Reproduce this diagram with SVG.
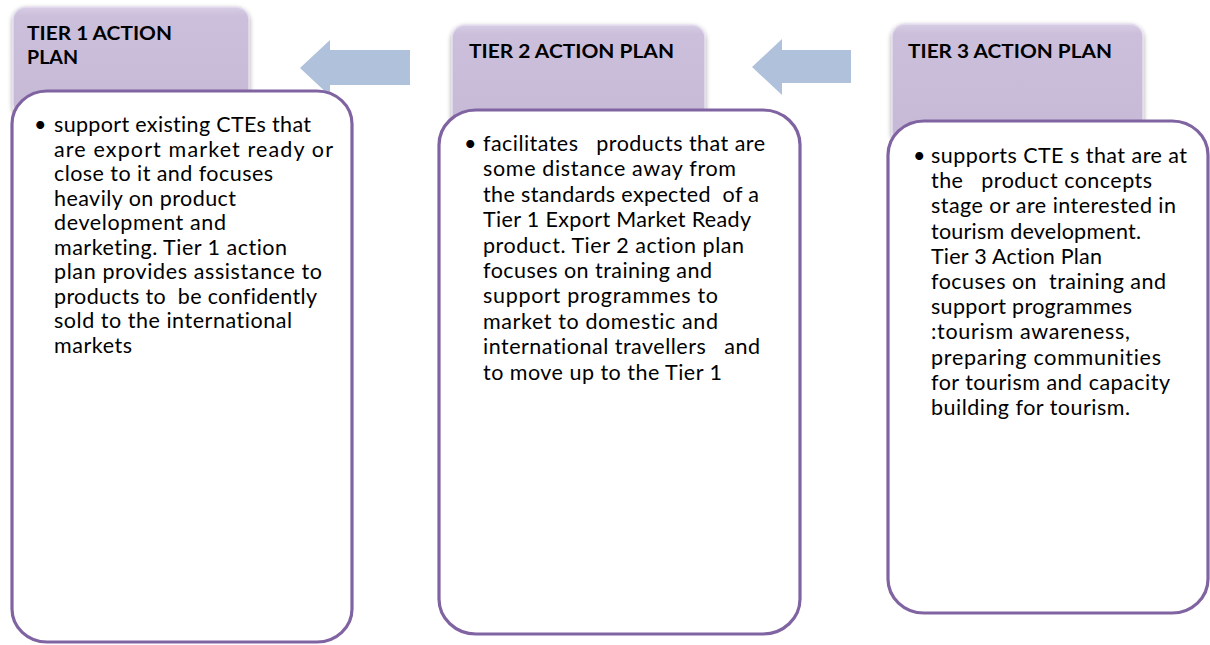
<svg xmlns="http://www.w3.org/2000/svg" width="1210" height="645" viewBox="0 0 1210 645">
  <defs>
    <linearGradient id="hdrGrad" x1="0" y1="0" x2="0" y2="1">
      <stop offset="0" stop-color="#d8cee5"/>
      <stop offset="0.08" stop-color="#cbbfdb"/>
      <stop offset="1" stop-color="#c6b9d6"/>
    </linearGradient>
    <filter id="shadow" x="-10%" y="-10%" width="120%" height="130%">
      <feGaussianBlur in="SourceAlpha" stdDeviation="2.5"/>
      <feOffset dx="0" dy="1.5" result="b"/>
      <feComponentTransfer><feFuncA type="linear" slope="0.35"/></feComponentTransfer>
      <feMerge><feMergeNode/><feMergeNode in="SourceGraphic"/></feMerge>
    </filter>
    <style>
      .hdr { fill: url(#hdrGrad); stroke: #e6def0; stroke-width: 1.5; filter: url(#shadow); }
      .card { fill: #ffffff; stroke: #8064a2; stroke-width: 3.2; }
      .arrow { fill: #afc1db; }
      .title { font-family: Lato, "Liberation Sans", sans-serif; font-weight: bold; font-size: 19px; fill: #000000; }
      .body { font-family: Lato, "Liberation Sans", sans-serif; font-size: 21.5px; fill: #000000; font-variant-ligatures: none; }
    </style>
  </defs>

  <rect width="1210" height="645" fill="#ffffff"/>

  <g id="connectors">
    <polygon class="arrow" points="300,68 330,40 330,50 410,50 410,85 330,85 330,96"/>
    <polygon class="arrow" points="752,67 782,39 782,50 851,50 851,83 782,83 782,95"/>
  </g>

  <g id="tier1">
    <rect class="hdr" x="13" y="7" width="236" height="110" rx="13"/>
    <text class="title" x="27" y="40" textLength="145" lengthAdjust="spacingAndGlyphs">TIER 1 ACTION</text>
    <text class="title" x="27" y="64" textLength="51" lengthAdjust="spacingAndGlyphs">PLAN</text>
    <rect class="card" x="12" y="91" width="340" height="551" rx="35" ry="33"/>
    <g class="body">
      <text x="34" y="132">•</text>
      <text x="54" y="132" textLength="257" lengthAdjust="spacing">support existing CTEs that</text>
      <text x="54" y="156.5" textLength="279" lengthAdjust="spacing">are export market ready or</text>
      <text x="54" y="181" textLength="219" lengthAdjust="spacing">close to it and focuses</text>
      <text x="54" y="205.5" textLength="182" lengthAdjust="spacing">heavily on product</text>
      <text x="54" y="230" textLength="172" lengthAdjust="spacing">development and</text>
      <text x="54" y="254.5" textLength="233" lengthAdjust="spacing">marketing. Tier 1 action</text>
      <text x="54" y="279" textLength="268" lengthAdjust="spacing">plan provides assistance to</text>
      <text x="54" y="303.5" textLength="263" lengthAdjust="spacing">products to&#160; be confidently</text>
      <text x="54" y="328" textLength="238" lengthAdjust="spacing">sold to the international</text>
      <text x="54" y="352.5" textLength="78" lengthAdjust="spacing">markets</text>
    </g>
  </g>

  <g id="tier2">
    <rect class="hdr" x="452" y="25" width="253" height="110" rx="13"/>
    <text class="title" x="469" y="58" textLength="205" lengthAdjust="spacingAndGlyphs">TIER 2 ACTION PLAN</text>
    <rect class="card" x="439" y="110" width="361" height="524" rx="37" ry="35"/>
    <g class="body">
      <text x="464" y="151">•</text>
      <text x="483" y="151" textLength="282" lengthAdjust="spacing">facilitates&#160;&#160; products that are</text>
      <text x="483" y="176.4" textLength="253" lengthAdjust="spacing">some distance away from</text>
      <text x="483" y="201.8" textLength="276" lengthAdjust="spacing">the standards expected&#160; of a</text>
      <text x="483" y="227.2" textLength="268" lengthAdjust="spacing">Tier 1 Export Market Ready</text>
      <text x="483" y="252.6" textLength="261" lengthAdjust="spacing">product. Tier 2 action plan</text>
      <text x="483" y="278" textLength="229" lengthAdjust="spacing">focuses on training and</text>
      <text x="483" y="303.4" textLength="235" lengthAdjust="spacing">support programmes to</text>
      <text x="483" y="328.8" textLength="235" lengthAdjust="spacing">market to domestic and</text>
      <text x="483" y="354.2" textLength="277" lengthAdjust="spacing">international travellers&#160;&#160; and</text>
      <text x="483" y="379.6" textLength="239" lengthAdjust="spacing">to move up to the Tier 1</text>
    </g>
  </g>

  <g id="tier3">
    <rect class="hdr" x="892" y="24" width="251" height="120" rx="13"/>
    <text class="title" x="908" y="58" textLength="204" lengthAdjust="spacingAndGlyphs">TIER 3 ACTION PLAN</text>
    <rect class="card" x="888" y="121" width="320" height="492" rx="36" ry="34"/>
    <g class="body">
      <text x="913" y="163">•</text>
      <text x="931" y="163" textLength="256" lengthAdjust="spacing">supports CTE s that are at</text>
      <text x="931" y="188.2" textLength="221" lengthAdjust="spacing">the&#160;&#160; product concepts</text>
      <text x="931" y="213.4" textLength="245" lengthAdjust="spacing">stage or are interested in</text>
      <text x="931" y="238.6" textLength="210" lengthAdjust="spacing">tourism development.</text>
      <text x="931" y="263.8" textLength="171" lengthAdjust="spacing">Tier 3 Action Plan</text>
      <text x="931" y="289" textLength="235" lengthAdjust="spacing">focuses on&#160; training and</text>
      <text x="931" y="314.2" textLength="201" lengthAdjust="spacing">support programmes</text>
      <text x="931" y="339.4" textLength="199" lengthAdjust="spacing">:tourism awareness,</text>
      <text x="931" y="364.6" textLength="230" lengthAdjust="spacing">preparing communities</text>
      <text x="931" y="389.8" textLength="239" lengthAdjust="spacing">for tourism and capacity</text>
      <text x="931" y="415" textLength="199" lengthAdjust="spacing">building for tourism.</text>
    </g>
  </g>
</svg>
